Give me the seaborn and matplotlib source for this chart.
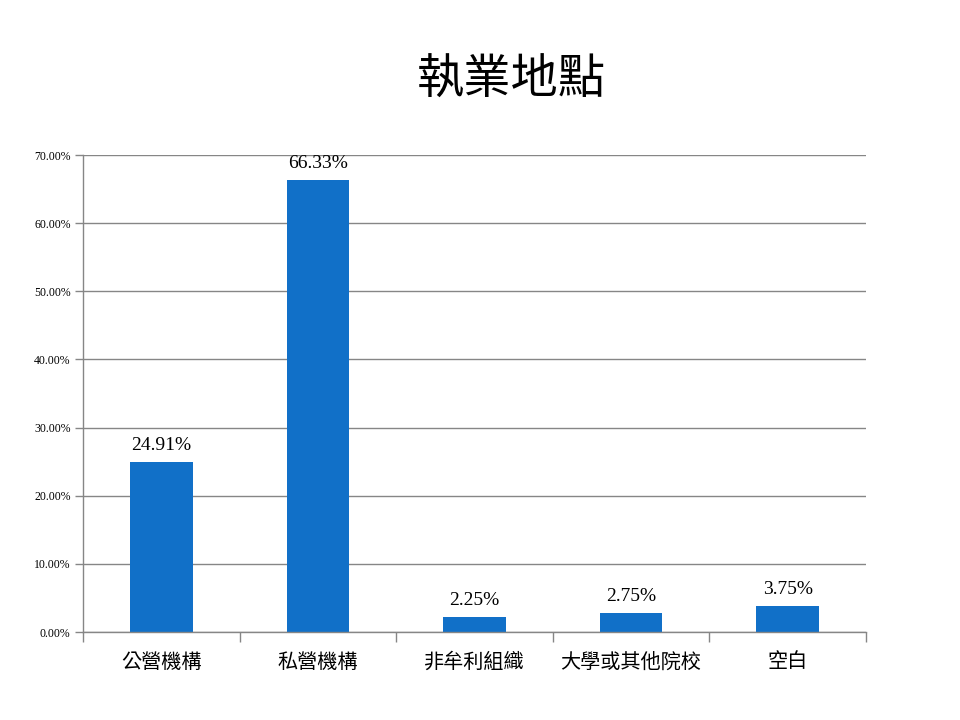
import numpy as np
import pandas as pd
import matplotlib
matplotlib.use('Agg')
import matplotlib.pyplot as plt
import seaborn as sns
from matplotlib.ticker import FixedLocator, PercentFormatter

# chart data
categories = ['公營機構', '私營機構', '非牟利組織', '大學或其他院校', '空白']
values = [24.91, 66.33, 2.25, 2.75, 3.75]
value_labels = ['24.91%', '66.33%', '2.25%', '2.75%', '3.75%']

df = pd.DataFrame({'地點': categories, '比例': values})

sns.set_style('white')
plt.rcParams['font.family'] = ['Noto Sans CJK TC', 'DejaVu Sans']

fig = plt.figure(figsize=(9.6, 7.2), dpi=100)
ax = fig.add_axes([0.0865, 0.1222, 0.8155, 0.6625])

sns.barplot(data=df, x='地點', y='比例', color='#1170C8', width=0.4,
            saturation=1, linewidth=0, ax=ax)

ax.set_ylim(0, 70)
ax.set_xlim(-0.5, len(categories) - 0.5)
ax.set_yticks(np.arange(0, 71, 10))
ax.yaxis.set_major_formatter(PercentFormatter(decimals=2))
ax.grid(axis='y', color='#868686', linewidth=1)
ax.set_axisbelow(True)

# category separators on x axis
ax.xaxis.set_minor_locator(FixedLocator(np.arange(-0.5, len(categories), 1)))
ax.tick_params(axis='x', which='major', length=0, pad=14, labelsize=14.5,
               labelcolor='black')
ax.tick_params(axis='x', which='minor', bottom=True, length=7, width=1,
               color='#868686', direction='out')
ax.tick_params(axis='y', left=True, length=6, width=1, color='#868686',
               direction='out', labelsize=8.5, pad=3, labelcolor='black')
for lbl in ax.get_yticklabels():
    lbl.set_family(['Liberation Serif', 'DejaVu Serif'])

for s in ['top', 'right']:
    ax.spines[s].set_visible(False)
for s in ['left', 'bottom']:
    ax.spines[s].set_color('#868686')
    ax.spines[s].set_linewidth(1)

ax.set_xlabel('')
ax.set_ylabel('')

for i, (v, t) in enumerate(zip(values, value_labels)):
    ax.text(i, v + 1.2, t, ha='center', va='bottom', fontsize=14,
            family=['Liberation Serif', 'DejaVu Serif'], color='black')

fig.text(0.533, 0.888, '執業地點', ha='center', va='center', fontsize=34,
         color='black')

fig.savefig('out.png', dpi=100, facecolor='white')
